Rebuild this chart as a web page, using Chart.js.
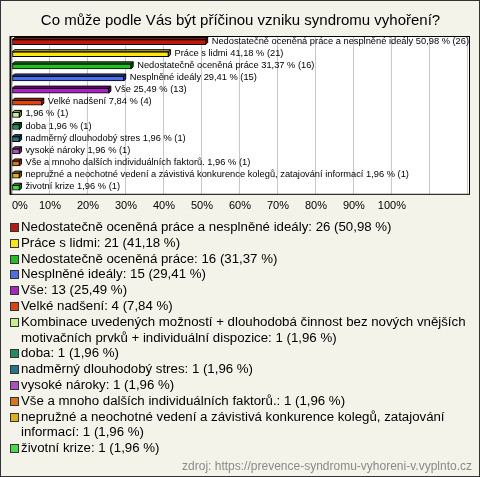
<!DOCTYPE html>
<html>
<head>
<meta charset="utf-8">
<script src="https://cdn.jsdelivr.net/npm/chart.js@4"></script>
<style>
  body { margin: 0; }
  #wrap { position: relative; width: 478px; height: 475px; border: 1px solid #333; background: #f4f3ea; font-family: "Liberation Sans", Arial, sans-serif; overflow: hidden; }
  #chartBox { position: absolute; left: 0; top: 0; width: 478px; height: 222px; }
  #legend { position: absolute; left: 9px; top: 218px; width: 462px; font-size: 13.25px; line-height: 15.8px; color: #000; }
  #legend .item { display: flex; align-items: flex-start; }
  #legend .sq { flex: none; width: 7px; height: 7px; border: 1px solid #333; margin: 4px 2px 0 0; }
  #source { text-align: right; margin: 3px 0 0 0; font-size: 12px; line-height: 14px; color: #8a8a8a; }
</style>
</head>
<body>
<div id="wrap">
  <div id="chartBox"><canvas id="myChart"></canvas></div>
  <div id="legend"></div>
</div>
<script>
let categories = [
  'Nedostatečně oceněná práce a nesplněné ideály',
  'Práce s lidmi',
  'Nedostatečně oceněná práce',
  'Nesplněné ideály',
  'Vše',
  'Velké nadšení',
  'Kombinace uvedených možností + dlouhodobá činnost bez nových vnějších motivačních prvků + individuální dispozice',
  'doba',
  'nadměrný dlouhodobý stres',
  'vysoké nároky',
  'Vše a mnoho dalších individuálních faktorů.',
  'nepružné a neochotné vedení a závistivá konkurence kolegů, zatajování informací',
  'životní krize'
];
// short names written next to the bars (the long one is left out there)
let barLabels = [
  'Nedostatečně oceněná práce a nesplněné ideály',
  'Práce s lidmi',
  'Nedostatečně oceněná práce',
  'Nesplněné ideály',
  'Vše',
  'Velké nadšení',
  '',
  'doba',
  'nadměrný dlouhodobý stres',
  'vysoké nároky',
  'Vše a mnoho dalších individuálních faktorů.',
  'nepružné a neochotné vedení a závistivá konkurence kolegů, zatajování informací',
  'životní krize'
];
let counts = [26, 21, 16, 15, 13, 4, 1, 1, 1, 1, 1, 1, 1];
let percents = [50.98, 41.18, 31.37, 29.41, 25.49, 7.84, 1.96, 1.96, 1.96, 1.96, 1.96, 1.96, 1.96];
let colors = ['#c0180c', '#ffe800', '#20c020', '#4a70f0', '#b020c8', '#e8400c',
  '#c8f088', '#189060', '#207890', '#b050c0', '#e07410', '#e0b010', '#40e040'];
let xTicks = [0, 10, 20, 30, 40, 50, 60, 70, 80, 90, 100];
let sourceText = 'zdroj: https://prevence-syndromu-vyhoreni-v.vyplnto.cz';

const fmt = v => v.toFixed(2).replace('.', ',');

const shade = (hex, f) => {
  let n = parseInt(hex.slice(1), 16);
  let r = Math.round(((n >> 16) & 255) * f), g = Math.round(((n >> 8) & 255) * f), b = Math.round((n & 255) * f);
  return 'rgb(' + r + ',' + g + ',' + b + ')';
};

// white plot background + black frame
const plotFrame = {
  id: 'plotFrame',
  beforeDraw: (chart) => {
    const a = chart.chartArea, c = chart.ctx;
    c.save();
    c.fillStyle = '#fff';
    c.fillRect(a.left - 2, a.top, a.right - a.left + 3, a.bottom - a.top);
    c.restore();
  },
  afterDraw: (chart) => {
    const a = chart.chartArea, c = chart.ctx;
    c.save();
    c.strokeStyle = '#000';
    c.lineWidth = 1;
    c.strokeRect(a.left - 1.5, a.top + 0.5, a.right - a.left + 2, a.bottom - a.top);
    c.beginPath();
    c.moveTo(a.left - 1.5, a.top);
    c.lineTo(a.left - 1.5, a.bottom + 1);
    c.lineWidth = 2;
    c.stroke();
    c.restore();
  }
};

// fake 3D depth on the bars and the text after them
const bar3d = {
  id: 'bar3d',
  afterDatasetsDraw: (chart) => {
    const c = chart.ctx, a = chart.chartArea;
    const d = 2;
    c.save();
    chart.getDatasetMeta(0).data.forEach((bar, i) => {
      const x0 = bar.base, x1 = bar.x;
      const yt = bar.y - bar.height / 2, yb = bar.y + bar.height / 2;
      c.lineWidth = 1;
      c.strokeStyle = '#000';
      c.fillStyle = shade(colors[i], 0.75);
      c.beginPath();
      c.moveTo(x0, yt); c.lineTo(x0 + d, yt - d); c.lineTo(x1 + d, yt - d); c.lineTo(x1, yt); c.closePath();
      c.fill(); c.stroke();
      c.fillStyle = shade(colors[i], 0.55);
      c.beginPath();
      c.moveTo(x1, yt); c.lineTo(x1 + d, yt - d); c.lineTo(x1 + d, yb - d); c.lineTo(x1, yb); c.closePath();
      c.fill(); c.stroke();
    });
    c.beginPath();
    c.rect(a.left, a.top, a.right - a.left, a.bottom - a.top);
    c.clip();
    c.fillStyle = '#000';
    c.font = '9.3px "Liberation Sans", Arial, sans-serif';
    c.textBaseline = 'middle';
    chart.getDatasetMeta(0).data.forEach((bar, i) => {
      let txt = (barLabels[i] ? barLabels[i] + ' ' : '') + fmt(percents[i]) + ' % (' + counts[i] + ')';
      c.fillText(txt, bar.x + d + 4, bar.y - 1);
    });
    c.restore();
  }
};

var ctx = document.getElementById('myChart').getContext('2d');
new Chart(ctx, {
  type: 'bar',
  data: {
    labels: categories,
    datasets: [{
      data: percents,
      backgroundColor: colors,
      borderColor: '#000',
      borderWidth: 1,
      borderSkipped: false,
      barThickness: 5
    }]
  },
  options: {
    indexAxis: 'y',
    responsive: true,
    maintainAspectRatio: false,
    animation: false,
    layout: { padding: { left: 11, right: 10, top: 0, bottom: 4 } },
    plugins: {
      legend: { display: false },
      tooltip: { enabled: false },
      title: {
        display: true,
        text: 'Co může podle Vás být příčinou vzniku syndromu vyhoření?',
        color: '#000',
        font: { family: '"Liberation Sans", Arial, sans-serif', size: 15, weight: 'normal' },
        padding: { top: 11, bottom: 6 }
      }
    },
    scales: {
      x: {
        min: 0,
        max: 120.3,
        ticks: {
          stepSize: 10,
          includeBounds: false,
          color: '#000',
          padding: 6,
          align: 'inner',
          maxRotation: 0,
          autoSkip: false,
          font: { family: '"Liberation Sans", Arial, sans-serif', size: 11 },
          callback: (v) => xTicks.includes(v) ? v + '%' : ''
        },
        grid: { color: '#c8c8c8', drawTicks: false },
        border: { display: false }
      },
      y: { display: false }
    }
  },
  plugins: [plotFrame, bar3d]
});

// legend under the chart, source line after it
let legendBox = document.getElementById('legend');
categories.forEach((name, i) => {
  let item = document.createElement('div');
  item.className = 'item';
  let sq = document.createElement('span');
  sq.className = 'sq';
  sq.style.background = colors[i];
  let t = document.createElement('span');
  t.textContent = name + ': ' + counts[i] + ' (' + fmt(percents[i]) + ' %)';
  item.appendChild(sq);
  item.appendChild(t);
  legendBox.appendChild(item);
});
let src = document.createElement('div');
src.id = 'source';
src.textContent = sourceText;
legendBox.appendChild(src);
</script>
</body>
</html>
